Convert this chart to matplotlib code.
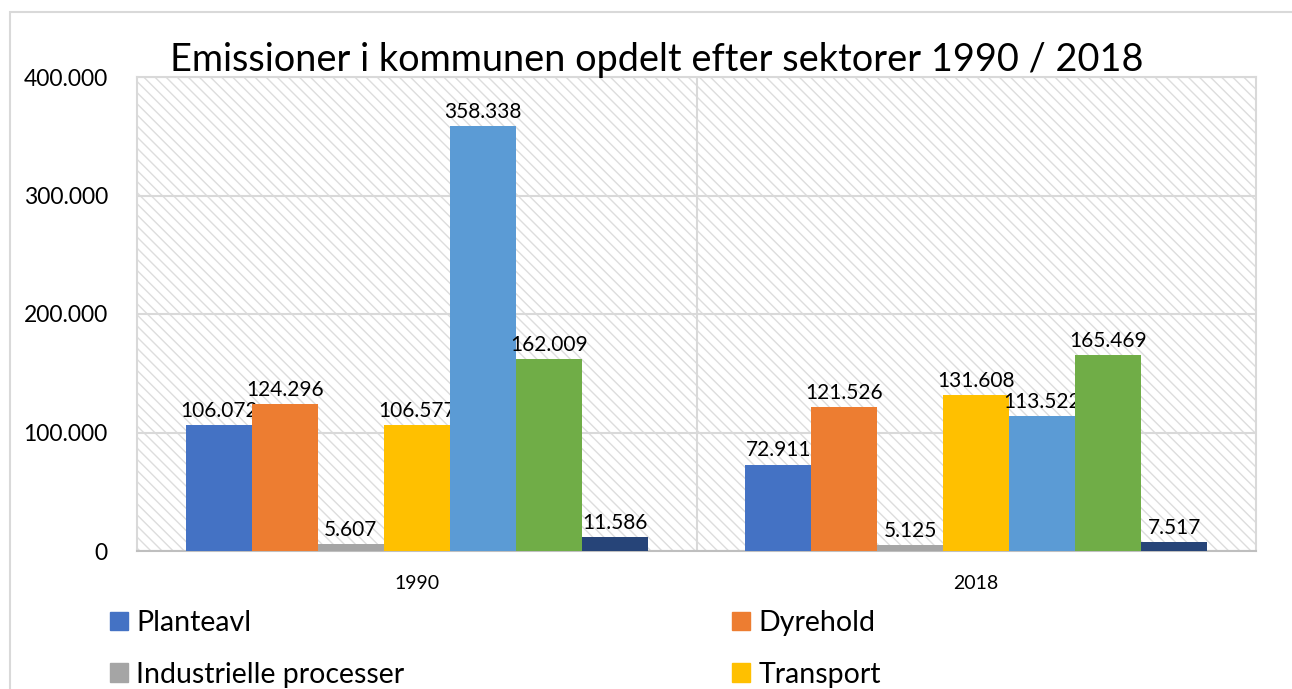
import numpy as np
import matplotlib
matplotlib.use("Agg")
import matplotlib.pyplot as plt
from matplotlib.patches import Rectangle, Patch

# data
years = ["1990", "2018"]
sectors = ["Planteavl", "Dyrehold", "Industrielle processer", "Transport",
           "Sektor 5", "Sektor 6", "Sektor 7"]  # last three names are cut off in the picture
values_1990 = [106072, 124296, 5607, 106577, 358338, 162009, 11586]
values_2018 = [72911, 121526, 5125, 131608, 113522, 165469, 7517]
colors = ["#4472C4", "#ED7D31", "#A5A5A5", "#FFC000", "#5B9BD5", "#70AD47", "#264478"]
y_ticks = [0, 100000, 200000, 300000, 400000]

plt.rcParams['font.family'] = ['Lato', 'DejaVu Sans']
plt.rcParams['hatch.linewidth'] = 1.0

def dk(v):
    return f"{v:,}".replace(",", ".")

fig = plt.figure(figsize=(12.92, 6.89), dpi=100)
ax = fig.add_axes([137/1292, 1-551/689, (1256-137)/1292, (551-77)/689])

# outer chart border (cut off on right and bottom)
fig.patches.append(Rectangle((10/1292, -0.1), 1.2, 1-12/689+0.1, transform=fig.transFigure,
                             facecolor="none", edgecolor="#d9d9d9", lw=1.5, zorder=0))

# hatched plot area
ax.add_patch(Rectangle((0, 0), 1, 1, transform=ax.transAxes, facecolor="none",
                       edgecolor="#dddddd", lw=0, hatch="\\\\\\", zorder=0))

x = np.arange(len(years))
w = 0.118
data = np.array([values_1990, values_2018])
for i, s in enumerate(sectors):
    b = ax.bar(x + (i - 3) * w, data[:, i], w, color=colors[i], label=s, zorder=3)
    ax.bar_label(b, labels=[dk(v) for v in data[:, i]], padding=3, fontsize=15, color="black")

ax.set_xlim(-0.5, 1.5)
ax.set_ylim(0, 400000)
ax.set_yticks(y_ticks)
ax.set_yticklabels([dk(v) for v in y_ticks], fontsize=16.5)
ax.set_xticks(x)
ax.set_xticklabels(years, fontsize=14)
ax.tick_params(length=0)
ax.tick_params(axis="y", pad=21)
ax.tick_params(axis="x", pad=17)
ax.grid(axis="y", color="#d9d9d9", lw=1.5, zorder=1)
ax.axvline(0.5, color="#d9d9d9", lw=1.5, zorder=1)
for s in ["left", "top", "right"]:
    ax.spines[s].set_color("#d9d9d9")
    ax.spines[s].set_linewidth(1.5)
ax.spines["bottom"].set_color("#bfbfbf")
ax.spines["bottom"].set_linewidth(1.5)

fig.text(657/1292, 1-60/689, "Emissioner i kommunen opdelt efter sektorer 1990 / 2018",
         ha="center", va="center", fontsize=27.3)

# legend (only the first four entries are visible)
order = [0, 2, 1, 3]
handles = [Patch(color=colors[i]) for i in order]
labels = [sectors[i] for i in order]
fig.legend(handles, labels, ncol=2, loc="upper left", bbox_to_anchor=(90/1292, 1-590/689),
           frameon=False, fontsize=20.5, handlelength=0.63, handleheight=0.63,
           handletextpad=0.3, columnspacing=11.5, labelspacing=0.9, borderpad=0.2)

fig.savefig("out.png", dpi=100)
